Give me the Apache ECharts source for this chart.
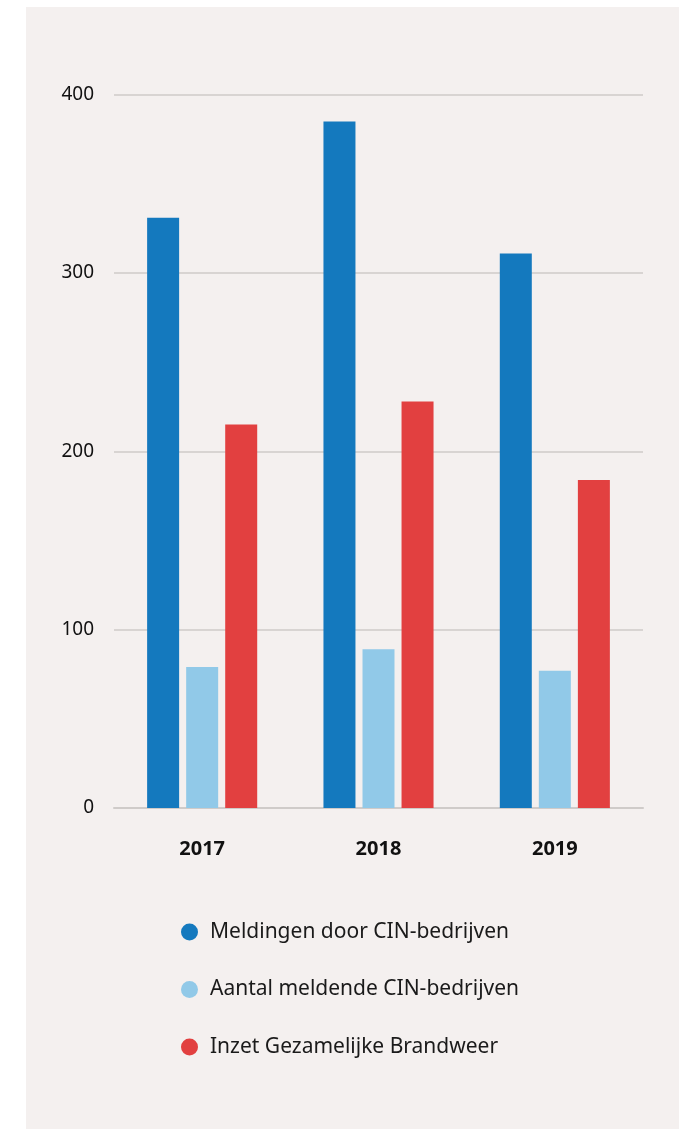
<!DOCTYPE html>
<html>
<head>
<meta charset="utf-8">
<script src="https://cdn.jsdelivr.net/npm/echarts@6/dist/echarts.min.js"></script>
<style>
html,body{margin:0;padding:0;background:#ffffff;}
#chart{width:686px;height:1129px;}
</style>
</head>
<body>
<div id="chart"></div>
<script>
const categories = ['2017', '2018', '2019'];
const meldingen = [331, 385, 311];
const aantalBedrijven = [79, 89, 77];
const inzetBrandweer = [215, 228, 184];
const seriesNames = ['Meldingen door CIN-bedrijven', 'Aantal meldende CIN-bedrijven', 'Inzet Gezamelijke Brandweer'];
const yTicks = [0, 100, 200, 300, 400];

const font = '"Noto Sans", "Open Sans", sans-serif';
const chart = echarts.init(document.getElementById('chart'));
chart.setOption({
  animation: false,
  backgroundColor: '#ffffff',
  graphic: [{
    type: 'rect', z: -10,
    shape: { x: 26, y: 7, width: 653, height: 1122 },
    style: { fill: '#f4f0ef' }
  }],
  grid: { left: 114, right: 43, top: 94.7, bottom: 321, containLabel: false },
  legend: {
    orient: 'vertical', left: 176, top: 915,
    icon: 'circle', itemWidth: 17, itemHeight: 17, itemGap: 33.5,
    textStyle: { fontFamily: font, fontSize: 21, color: '#1a1a1a', padding: [0, 0, 0, 7], lineHeight: 24 },
    data: seriesNames
  },
  xAxis: {
    type: 'category', data: categories,
    axisTick: { show: false },
    axisLine: { lineStyle: { color: '#cfcbc9', width: 2 } },
    axisLabel: { fontFamily: font, fontSize: 20, fontWeight: 'bold', color: '#111', margin: 31 }
  },
  yAxis: {
    type: 'value', min: yTicks[0], max: yTicks[yTicks.length - 1], interval: 100,
    axisLine: { show: false }, axisTick: { show: false },
    splitLine: { lineStyle: { color: '#cfcbc9', width: 1.5 } },
    axisLabel: { fontFamily: font, fontSize: 19, color: '#111', margin: 20 }
  },
  series: [
    { name: seriesNames[0], type: 'bar', data: meldingen, barWidth: 32, barGap: '22%', itemStyle: { color: '#1479be' } },
    { name: seriesNames[1], type: 'bar', data: aantalBedrijven, barWidth: 32, barGap: '22%', itemStyle: { color: '#91c9e8' } },
    { name: seriesNames[2], type: 'bar', data: inzetBrandweer, barWidth: 32, barGap: '22%', itemStyle: { color: '#e24040' } }
  ]
});
</script>
</body>
</html>
